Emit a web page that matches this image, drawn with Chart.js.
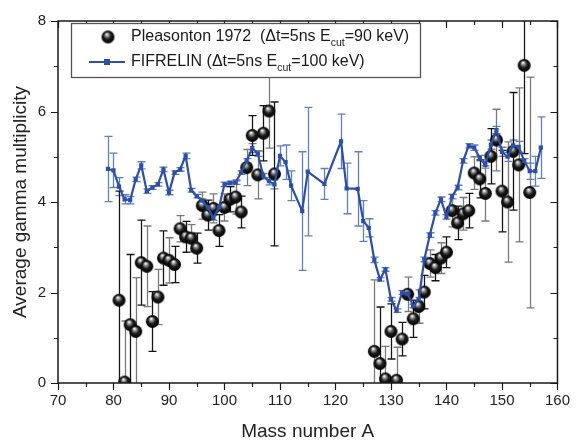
<!DOCTYPE html>
<html>
<head>
<meta charset="utf-8">
<script src="https://cdn.jsdelivr.net/npm/chart.js@4.4.0/dist/chart.umd.min.js"></script>
<style>
  html, body { margin: 0; padding: 0; background: #fff; }
  #wrap { width: 579px; height: 443px; }
</style>
</head>
<body>
<div id="wrap"><canvas id="gammaChart"></canvas></div>
<script>
// Pleasonton 1972 (black spheres)
var massP = [81, 82, 83, 84, 85, 86, 87, 88, 89, 90, 91, 92, 93, 94, 95, 96, 97, 98, 99, 100,
             101, 102, 103, 104, 105, 106, 107, 108, 109,
             127, 128, 129, 130, 131, 132, 133, 134, 135, 136, 137, 138, 139, 140,
             141, 142, 143, 144, 145, 146, 147, 148, 149, 150, 151, 152, 153, 154, 155];
var multP = [1.83, 0.02, 1.29, 1.14, 2.66, 2.58, 1.36, 1.90, 2.76, 2.71, 2.62, 3.41, 3.23, 3.20, 2.98, 3.92, 3.71, 3.86, 3.37, 3.88,
             4.06, 4.11, 3.78, 4.76, 5.47, 4.60, 5.52, 6.01, 4.62,
             0.70, 0.43, 0.09, 1.14, 0.06, 0.97, 1.96, 1.42, 1.69, 2.01, 2.64, 2.55, 2.76, 2.89,
             3.81, 3.54, 3.74, 3.81, 4.64, 4.51, 4.19, 5.01, 5.37, 4.24, 4.00, 5.12, 4.82, 7.02, 4.21];
var errP  = [2.41, 1.35, 1.55, 1.19, 0.94, 0.89, 0.66, 0.61, 0.60, 0.50, 0.40, 0.29, 0.34, 0.30, 0.33, 0.30, 0.33, 0.32, 0.35, 0.30,
             0.28, 0.38, 0.35, 0.40, 0.44, 0.53, 0.61, 0.82, 1.59,
             1.58, 1.25, 0.72, 0.61, 0.73, 0.37, 0.38, 0.41, 0.37, 0.37, 0.30, 0.29, 0.34, 0.34,
             0.36, 0.37, 0.36, 0.38, 0.36, 0.42, 0.61, 0.61, 0.68, 0.90, 1.33, 1.30, 1.70, 1.95, 2.55];

// FIFRELIN (blue squares)
var massF = [79, 80, 81, 82, 83, 84, 85, 86, 87, 88, 89, 90, 91, 92, 93, 94, 95, 96, 97, 98, 99, 100,
             101, 102, 103, 104, 105, 106, 107, 108, 109, 110, 111, 112, 114, 115, 118, 121, 122,
             124, 125, 126, 127, 128, 129, 130, 131, 132, 133, 134, 135, 136, 137, 138, 139, 140,
             141, 142, 143, 144, 145, 146, 147, 148, 149, 150, 151, 152, 153, 154, 155, 156, 157];
var multF = [4.73, 4.70, 4.34, 4.06, 4.04, 4.50, 4.81, 4.24, 4.32, 4.39, 4.72, 4.21, 4.65, 4.72, 5.02, 4.26, 4.13, 4.03, 3.88, 3.65, 3.88, 4.39,
             4.42, 4.43, 4.65, 4.91, 5.19, 5.07, 4.57, 4.46, 4.39, 5.02, 4.88, 4.36, 3.80, 4.67, 4.40, 5.34, 4.30,
             4.29, 3.58, 3.43, 2.72, 2.29, 2.51, 1.85, 1.60, 2.00, 1.98, 1.70, 1.85, 2.73, 3.27, 3.76, 4.06, 3.67,
             4.12, 4.32, 4.91, 5.24, 5.20, 4.97, 4.82, 5.27, 5.59, 5.11, 5.00, 5.25, 5.22, 4.91, 4.68, 4.68, 5.20];
var errF  = [0.72, 0.38, 0.20, 0.10, 0.08, 0.05, 0.08, 0.05, 0.04, 0.04, 0.05, 0.05, 0.04, 0.04, 0.06, 0.04, 0.04, 0.04, 0.04, 0.05, 0.05, 0.05,
             0.04, 0.04, 0.04, 0.05, 0.10, 0.06, 0.06, 0.08, 0.10, 0.22, 0.38, 0.33, 1.31, 1.42, 0.34, 0.60, 0.56,
             0.82, 0.45, 0.20, 0.06, 0.04, 0.04, 0.04, 0.04, 0.04, 0.04, 0.04, 0.04, 0.05, 0.05, 0.05, 0.05, 0.05,
             0.05, 0.05, 0.05, 0.05, 0.06, 0.06, 0.07, 0.10, 0.08, 0.10, 0.10, 0.12, 0.12, 0.05, 0.18, 0.33, 0.68];

var xTicks = [70, 80, 90, 100, 110, 120, 130, 140, 150, 160];
var yTicks = [0, 2, 4, 6, 8];

var blue = '#2e4fa6';
var blueErr = '#5f7fc6';
var fontFam = '"Liberation Sans", Arial, sans-serif';

// shaded black ball used as the Pleasonton marker
function makeSphere(r) {
    var c = document.createElement('canvas');
    c.width = c.height = Math.ceil(r * 2 + 2);
    var g = c.getContext('2d');
    var cx = c.width / 2, cy = c.height / 2;
    var grad = g.createRadialGradient(cx - r * 0.2, cy - r * 0.45, 0.3, cx, cy, r);
    grad.addColorStop(0, '#ffffff');
    grad.addColorStop(0.22, '#9a9a9a');
    grad.addColorStop(0.55, '#1c1c1c');
    grad.addColorStop(1, '#000000');
    g.fillStyle = grad;
    g.beginPath();
    g.arc(cx, cy, r, 0, Math.PI * 2);
    g.fill();
    return c;
}
var sphere = makeSphere(6.5);

function toPoints(xs, ys) {
    return xs.map(function (x, i) { return { x: x, y: ys[i] }; });
}

// error bars, drawn under the markers
var errorBars = {
    id: 'errorBars',
    beforeDatasetsDraw: function (chart) {
        var ctx = chart.ctx, xs = chart.scales.x, ys = chart.scales.y, a = chart.chartArea;
        ctx.save();
        ctx.beginPath();
        ctx.rect(a.left, a.top, a.right - a.left, a.bottom - a.top);
        ctx.clip();
        function bars(mass, vals, errs, colorFn) {
            for (var i = 0; i < mass.length; i++) {
                var px = Math.round(xs.getPixelForValue(mass[i])) + 0.5;
                var y1 = ys.getPixelForValue(vals[i] + errs[i]);
                var y2 = ys.getPixelForValue(vals[i] - errs[i]);
                ctx.strokeStyle = colorFn(i);
                ctx.lineWidth = 1.3;
                ctx.beginPath();
                ctx.moveTo(px, y1); ctx.lineTo(px, y2);
                ctx.moveTo(px - 4, y1); ctx.lineTo(px + 4, y1);
                ctx.moveTo(px - 4, y2); ctx.lineTo(px + 4, y2);
                ctx.stroke();
            }
        }
        bars(massF, multF, errF, function () { return blueErr; });
        bars(massP, multP, errP, function (i) { return i % 2 ? '#7a7a7a' : '#151515'; });
        ctx.restore();
    }
};

// box frame with Origin-style ticks (out on bottom/left, in on top/right)
var frameTicks = {
    id: 'frameTicks',
    afterDraw: function (chart) {
        var ctx = chart.ctx, xs = chart.scales.x, ys = chart.scales.y, a = chart.chartArea;
        ctx.save();
        ctx.strokeStyle = '#1a1a1a';
        ctx.lineWidth = 1.5;
        ctx.strokeRect(a.left, a.top, a.right - a.left, a.bottom - a.top);
        ctx.lineWidth = 1.2;
        ctx.beginPath();
        for (var v = 70; v <= 160; v += 5) {
            var len = v % 10 === 0 ? 7 : 4;
            var px = Math.round(xs.getPixelForValue(v)) + 0.5;
            ctx.moveTo(px, a.bottom); ctx.lineTo(px, a.bottom + len);
            ctx.moveTo(px, a.top); ctx.lineTo(px, a.top + len);
        }
        for (var w = 0; w <= 8; w += 1) {
            var l2 = w % 2 === 0 ? 7 : 4;
            var py = Math.round(ys.getPixelForValue(w)) + 0.5;
            ctx.moveTo(a.left, py); ctx.lineTo(a.left - l2, py);
            ctx.moveTo(a.right, py); ctx.lineTo(a.right - l2, py);
        }
        ctx.stroke();
        ctx.restore();
    }
};

// legend with subscripted E_cut
var legendBox = {
    id: 'legendBox',
    afterDraw: function (chart) {
        var ctx = chart.ctx;
        var bx = 71, by = 23, bw = 349, bh = 54;
        ctx.save();
        ctx.fillStyle = '#fff';
        ctx.fillRect(bx, by, bw, bh);
        ctx.strokeStyle = '#555';
        ctx.lineWidth = 1.3;
        ctx.strokeRect(bx + 0.5, by + 0.5, bw, bh);

        function line(parts, x, y) {
            ctx.fillStyle = '#1a1a1a';
            ctx.textBaseline = 'middle';
            parts.forEach(function (p) {
                if (p.sub) {
                    ctx.font = '10.5px ' + fontFam;
                    ctx.fillText(p.t, x, y + 6);
                } else {
                    ctx.font = '16px ' + fontFam;
                    ctx.fillText(p.t, x, y);
                }
                x += ctx.measureText(p.t).width;
            });
        }

        ctx.drawImage(sphere, 108 - sphere.width / 2, 37 - sphere.height / 2);
        line([{ t: 'Pleasonton 1972  (\u0394t=5ns E' }, { t: 'cut', sub: true }, { t: '=90 keV)' }], 131, 37);

        ctx.strokeStyle = blue;
        ctx.lineWidth = 2;
        ctx.beginPath();
        ctx.moveTo(89, 62); ctx.lineTo(125, 62);
        ctx.stroke();
        ctx.fillStyle = blue;
        ctx.fillRect(104, 59, 6, 6);
        line([{ t: 'FIFRELIN (\u0394t=5ns E' }, { t: 'cut', sub: true }, { t: '=100 keV)' }], 131, 62);
        ctx.restore();
    }
};

var ctx1 = document.getElementById('gammaChart').getContext('2d');
new Chart(ctx1, {
    type: 'scatter',
    data: {
        datasets: [{
            label: 'FIFRELIN',
            data: toPoints(massF, multF),
            showLine: true,
            borderColor: blue,
            borderWidth: 2.2,
            backgroundColor: blue,
            pointStyle: 'rect',
            pointRadius: 3,
            pointBorderWidth: 0,
            clip: 0
        }, {
            label: 'Pleasonton 1972',
            data: toPoints(massP, multP),
            showLine: false,
            pointStyle: sphere,
            clip: 0
        }]
    },
    options: {
        responsive: true,
        maintainAspectRatio: false,
        animation: false,
        layout: { padding: { top: 13, right: 20, left: 0, bottom: 0 } },
        plugins: {
            legend: { display: false },
            tooltip: { enabled: false }
        },
        scales: {
            x: {
                type: 'linear',
                min: 70, max: 160,
                afterBuildTicks: function (s) { s.ticks = xTicks.map(function (v) { return { value: v }; }); },
                afterFit: function (s) { s.height = 60; },
                grid: { display: false, drawTicks: false },
                border: { display: false },
                ticks: { padding: 9, color: '#222', font: { family: fontFam, size: 15 } },
                title: {
                    display: true, text: 'Mass number A', color: '#222',
                    font: { family: fontFam, size: 19 }, padding: { top: 0, bottom: 0 }
                }
            },
            y: {
                type: 'linear',
                min: 0, max: 8,
                afterBuildTicks: function (s) { s.ticks = yTicks.map(function (v) { return { value: v }; }); },
                afterFit: function (s) { s.width = 58; },
                grid: { display: false, drawTicks: false },
                border: { display: false },
                ticks: { padding: 12, color: '#222', font: { family: fontFam, size: 15 } },
                title: {
                    display: true, text: 'Average gamma multiplicity', color: '#222',
                    font: { family: fontFam, size: 19 }, padding: { top: 9, bottom: 0 }
                }
            }
        }
    },
    plugins: [errorBars, frameTicks, legendBox]
});
</script>
</body>
</html>
